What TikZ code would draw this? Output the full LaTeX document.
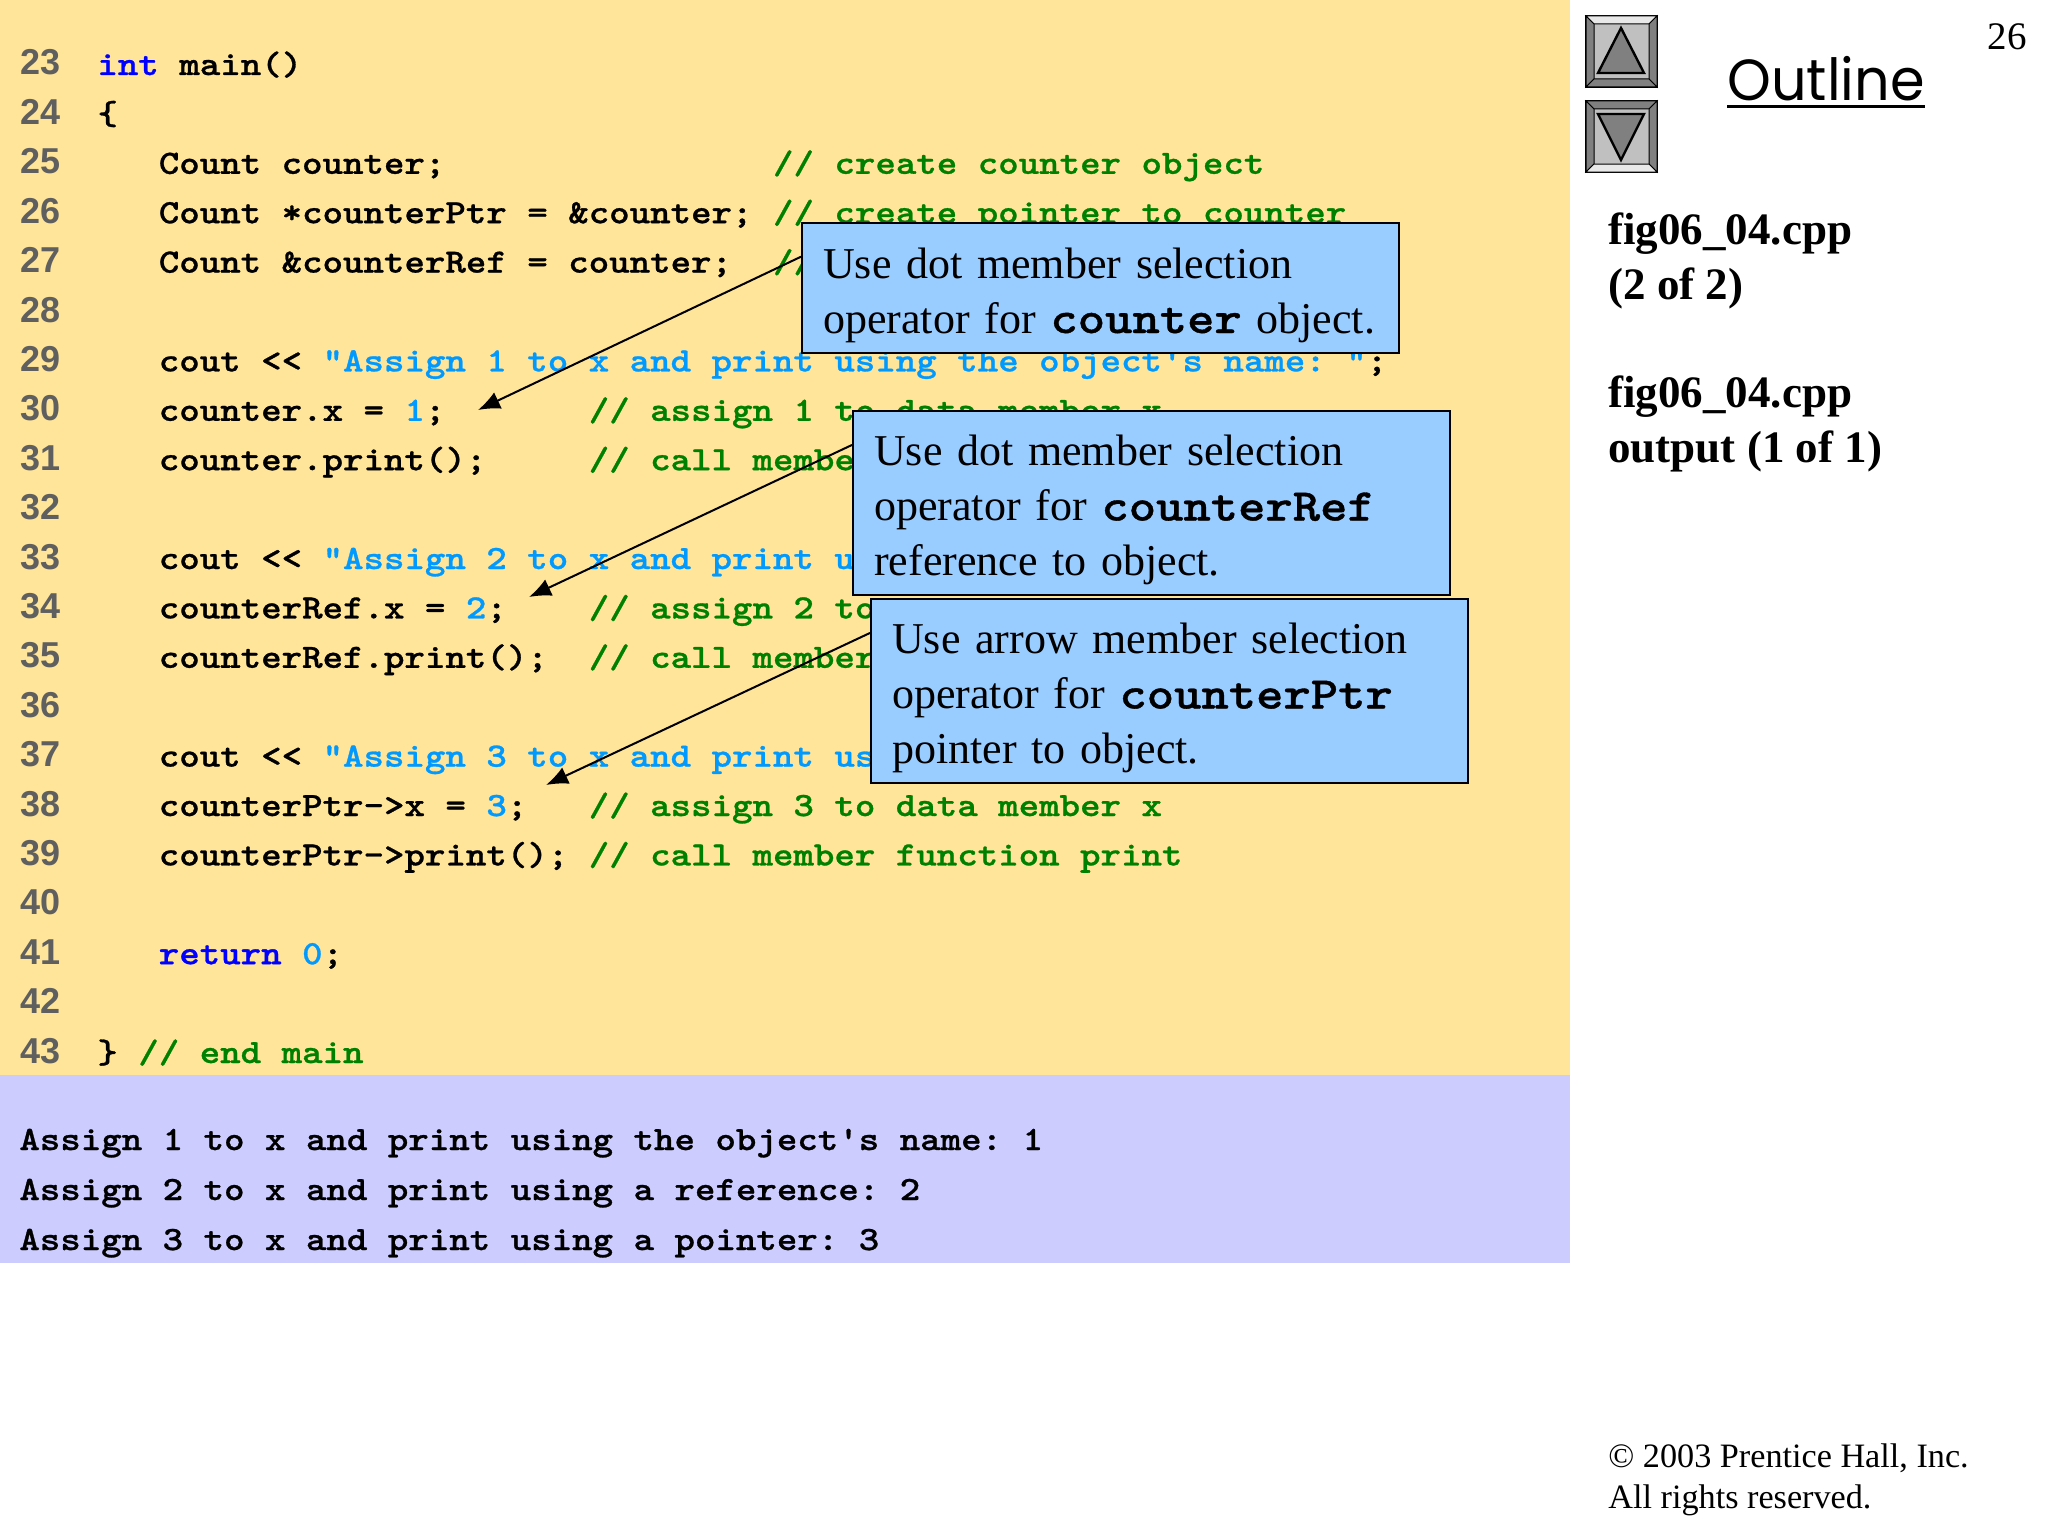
\documentclass[tikz,border=0pt]{standalone}
\usepackage{fontspec}
\setmainfont{Liberation Serif}
\setsansfont{Liberation Sans}
\setmonofont{Latin Modern Mono Light}[FakeStretch=1.147,BoldFeatures={FakeBold=0.8}]
\newfontfamily\outlinefont{Poppins}[FakeStretch=0.96]
\usetikzlibrary{arrows.meta}
\definecolor{panelyellow}{HTML}{FFE599}
\definecolor{panellilac}{HTML}{CCCCFF}
\definecolor{boxblue}{HTML}{99CCFF}
\definecolor{lineno}{HTML}{5F5F5F}
\definecolor{strblue}{HTML}{0099FF}
\definecolor{cmtgreen}{HTML}{008000}
\definecolor{btnface}{HTML}{C0C0C0}
\definecolor{btndark}{HTML}{808080}
\definecolor{btnlight}{HTML}{E8E8E8}
\newcommand{\kw}[1]{\textcolor{blue}{#1}}
\newcommand{\str}[1]{\textcolor{strblue}{#1}}
\newcommand{\cmt}[1]{\textcolor{cmtgreen}{#1}}
\newcommand{\bcode}[1]{{\ttfamily\bfseries\fontsize{22.7}{27.5}\selectfont #1}}
\newcommand{\topgap}{\rule{0pt}{22pt}}
\tikzset{
	x=0.5pt,y=-0.5pt,
	lnum/.style={anchor=base west,inner sep=0,font=\sffamily\bfseries\fontsize{18}{20}\selectfont,text=lineno},
	codeline/.style={anchor=base west,inner sep=0,font=\ttfamily\bfseries\fontsize{17}{20}\selectfont},
	callout/.style={draw=black,line width=1.2pt,fill=boxblue,anchor=north west,minimum width=298.5pt,text width=277.5pt,inner xsep=10.5pt,inner ysep=0,align=left,font=\fontsize{22}{27.5}\selectfont},
	pointer/.style={line width=1pt,-{Latex[length=11pt,width=9pt]}},
	side/.style={anchor=base west,inner sep=0,font=\bfseries\fontsize{22.5}{24}\selectfont},
	foot/.style={anchor=base west,inner sep=0,font=\fontsize{17.1}{20}\selectfont},
	navbtn/.style={draw=black,line width=1.4pt,fill=btnface,minimum size=35.5pt,inner sep=0,outer sep=0,anchor=north west},
	navband/.style={draw=black,line width=0.5pt,line join=miter},
	navtri/.style={draw=black,line width=1.2pt,fill=btndark,line join=miter},
}
\begin{document}
\begin{tikzpicture}
	\useasboundingbox (0,0) rectangle (2048,1536);
	\fill[panelyellow] (0,0) rectangle (1570,1075);
	\fill[panellilac] (0,1075) rectangle (1570,1263);
	% line numbers
	\foreach \lno [count=\i from 0] in {23,...,43}
		\node[lnum] (n\lno) at (20,{75+49.4*\i}) {\lno};
	% code
	\node[codeline] (c23) at (97,75) {\kw{int} main()};
	\node[codeline] (c24) at (97,124.4) {\{};
	\node[codeline] (c25) at (97,173.8) {~~~Count counter;~~~~~~~~~~~~~~~~\cmt{//~create counter object}};
	\node[codeline] (c26) at (97,223.2) {~~~Count *counterPtr = \&counter; \cmt{//~create pointer to counter}};
	\node[codeline] (c27) at (97,272.6) {~~~Count \&counterRef = counter;~~\cmt{//}};
	\node[codeline] (c29) at (97,371.4) {~~~cout << \str{"Assign 1 to x and print using the object's name:~"};};
	\node[codeline] (c30) at (97,420.8) {~~~counter.x = \str{1};~~~~~~~\cmt{//~assign 1 to data member x}};
	\node[codeline] (c31) at (97,470.2) {~~~counter.print();~~~~~\cmt{//~call member}};
	\node[codeline] (c33) at (97,569) {~~~cout << \str{"Assign 2 to x and print using}};
	\node[codeline] (c34) at (97,618.4) {~~~counterRef.x = \str{2};~~~~\cmt{//~assign 2 to}};
	\node[codeline] (c35) at (97,667.8) {~~~counterRef.print();~~\cmt{//~call member}};
	\node[codeline] (c37) at (97,766.6) {~~~cout << \str{"Assign 3 to x and print using}};
	\node[codeline] (c38) at (97,816) {~~~counterPtr->x = \str{3};~~~\cmt{//~assign 3 to data member x}};
	\node[codeline] (c39) at (97,865.4) {~~~counterPtr->print(); \cmt{//~call member function print}};
	\node[codeline] (c41) at (97,964.2) {~~~\kw{return} \str{0};};
	\node[codeline] (c43) at (97,1063) {\} \cmt{//~end main}};
	% program output
	\node[codeline] (o1) at (19,1150) {Assign 1 to x and print using the object's name: 1};
	\node[codeline] (o2) at (19,1200) {Assign 2 to x and print using a reference: 2};
	\node[codeline] (o3) at (19,1250) {Assign 3 to x and print using a pointer: 3};
	% callouts
	\node[callout,minimum height=65pt] (dotbox) at (801,222) {\topgap Use dot member selection\\operator for \bcode{counter} object.};
	\node[callout,minimum height=92pt] (refbox) at (852,410) {\topgap Use dot member selection\\operator for \bcode{counterRef}\\reference to object.};
	\node[callout,minimum height=92pt] (ptrbox) at (870,598) {\topgap Use arrow member selection\\operator for \bcode{counterPtr}\\pointer to object.};
	\coordinate (dottip) at (478,410);
	\coordinate (reftip) at (529,597);
	\coordinate (ptrtip) at (546,785);
	\draw[pointer] (dotbox.174) -- (dottip);
	\draw[pointer] (refbox.169) -- (reftip);
	\draw[pointer] (ptrbox.169) -- (ptrtip);
	% nav buttons
	\node[navbtn] (upbtn) at (1586,16) {};
	\node[navbtn] (downbtn) at (1586,101) {};
	\draw[navband,fill=btnlight] (upbtn.north west) -- (upbtn.north east) -- ++(-8,8) -- ++(-55,0) -- cycle;
	\draw[navband,fill=btndark] (upbtn.north west) -- (upbtn.south west) -- ++(8,-8) -- ++(0,-55) -- cycle;
	\draw[navband,fill=btndark] (upbtn.north east) -- (upbtn.south east) -- ++(-8,-8) -- ++(0,-55) -- cycle;
	\draw[navband,fill=btndark] (upbtn.south west) -- (upbtn.south east) -- ++(-8,-8) -- ++(-55,0) -- cycle;
	\draw[navband,fill=btndark] (downbtn.north west) -- (downbtn.north east) -- ++(-8,8) -- ++(-55,0) -- cycle;
	\draw[navband,fill=btndark] (downbtn.north west) -- (downbtn.south west) -- ++(8,-8) -- ++(0,-55) -- cycle;
	\draw[navband,fill=btndark] (downbtn.north east) -- (downbtn.south east) -- ++(-8,-8) -- ++(0,-55) -- cycle;
	\draw[navband,fill=btnlight] (downbtn.south west) -- (downbtn.south east) -- ++(-8,-8) -- ++(-55,0) -- cycle;
	\draw[navtri] (1621,28) -- (1598,73) -- (1644,73) -- cycle;
	\draw[navtri] (1598,114) -- (1644,114) -- (1621,160) -- cycle;
	% side bar
	\node[anchor=base west,inner sep=0,font=\outlinefont\fontsize{29}{32}\selectfont] (outline) at (1727,101) {Outline};
	\draw[line width=1.5pt] (outline.base west) ++(0,6) -- ++(198,0);
	\node[anchor=base east,inner sep=0,font=\fontsize{19.5}{22}\selectfont] (pageno) at (2027,50) {26};
	\node[side] (s1) at (1608,244) {fig06\_04.cpp};
	\node[side] (s2) at (1608,299) {(2 of 2)};
	\node[side] (s3) at (1608,407) {fig06\_04.cpp};
	\node[side] (s4) at (1608,462) {output (1 of 1)};
	\node[foot] (f1) at (1608,1467) {© 2003 Prentice Hall, Inc.};
	\node[foot] (f2) at (1608,1508) {All rights reserved.};
\end{tikzpicture}
\end{document}
